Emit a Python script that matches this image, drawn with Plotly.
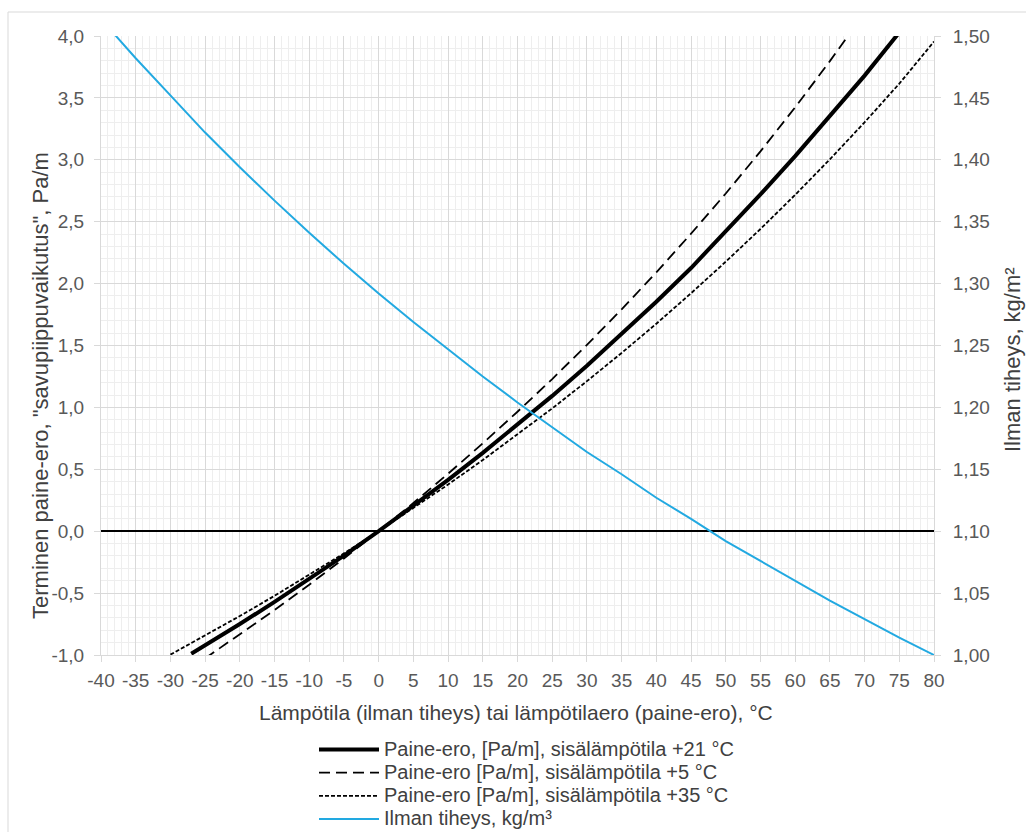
import plotly.graph_objects as go

# Pressure difference, inside temperature +21 °C
x_21 = [-27, -25, -20, -15, -10, -5, 0, 5, 10, 15, 20, 25, 30, 35, 40, 45, 50, 55, 60, 65, 70, 75]
p_21 = [-0.990, -0.922, -0.750, -0.571, -0.387, -0.197, 0.0, 0.204, 0.414, 0.633, 0.859, 1.093,
        1.337, 1.590, 1.853, 2.126, 2.420, 2.720, 3.030, 3.350, 3.680, 4.029]

# Pressure difference, inside temperature +5 °C
x_5 = [-25, -20, -15, -10, -5, 0, 5, 10, 15, 20, 25, 30, 35, 40, 45, 50, 55, 60, 65, 70]
p_5 = [-1.027, -0.835, -0.637, -0.432, -0.220, 0.0, 0.228, 0.464, 0.710, 0.965, 1.229, 1.505,
       1.792, 2.091, 2.403, 2.728, 3.068, 3.424, 3.797, 4.187]

# Pressure difference, inside temperature +35 °C
x_35 = [-30, -25, -20, -15, -10, -5, 0, 5, 10, 15, 20, 25, 30, 35, 40, 45, 50, 55, 60, 65, 70, 75, 80]
p_35 = [-0.997, -0.843, -0.685, -0.522, -0.353, -0.179, 0.0, 0.185, 0.377, 0.575, 0.780, 0.992,
        1.212, 1.440, 1.676, 1.922, 2.177, 2.441, 2.717, 3.004, 3.303, 3.615, 3.955]

# Air density
t_rho = [-38, -35, -30, -25, -20, -15, -10, -5, 0, 5, 10, 15, 20, 25, 30, 35, 40, 45, 50, 55, 60, 65, 70, 75, 80]
rho = [1.501, 1.482, 1.452, 1.422, 1.394, 1.367, 1.341, 1.316, 1.292, 1.269, 1.247, 1.225, 1.204,
       1.184, 1.164, 1.146, 1.127, 1.110, 1.092, 1.076, 1.060, 1.044, 1.029, 1.014, 1.000]

# Tick labels
x_tickvals = [-40, -35, -30, -25, -20, -15, -10, -5, 0, 5, 10, 15, 20, 25, 30, 35, 40, 45, 50, 55, 60, 65, 70, 75, 80]
x_ticktext = ["-40", "-35", "-30", "-25", "-20", "-15", "-10", "-5", "0", "5", "10", "15", "20",
              "25", "30", "35", "40", "45", "50", "55", "60", "65", "70", "75", "80"]
y_tickvals = [-1.0, -0.5, 0.0, 0.5, 1.0, 1.5, 2.0, 2.5, 3.0, 3.5, 4.0]
y_ticktext = ["-1,0", "-0,5", "0,0", "0,5", "1,0", "1,5", "2,0", "2,5", "3,0", "3,5", "4,0"]
y2_tickvals = [1.00, 1.05, 1.10, 1.15, 1.20, 1.25, 1.30, 1.35, 1.40, 1.45, 1.50]
y2_ticktext = ["1,00", "1,05", "1,10", "1,15", "1,20", "1,25", "1,30", "1,35", "1,40", "1,45", "1,50"]

names = [
    "Paine-ero, [Pa/m], sisälämpötila +21 °C",
    "Paine-ero [Pa/m], sisälämpötila +5 °C",
    "Paine-ero [Pa/m], sisälämpötila +35 °C",
    "Ilman tiheys, kg/m³",
]
x_title = "Lämpötila (ilman tiheys) tai lämpötilaero (paine-ero), °C"
y_title = 'Terminen paine-ero, "savupiippuvaikutus", Pa/m'
y2_title = "Ilman tiheys, kg/m²"

FONT = "Liberation Sans, Arial, sans-serif"
TICKC = "#595959"
TITLEC = "#404040"

def lname(n):
    return '<span style="font-size:20px">' + n + '</span>'

fig = go.Figure()
fig.add_trace(go.Scatter(x=x_21, y=p_21, mode="lines", name=lname(names[0]),
                         line=dict(color="black", width=4)))
fig.add_trace(go.Scatter(x=x_5, y=p_5, mode="lines", name=lname(names[1]),
                         line=dict(color="black", width=1.8, dash="11px,6px")))
fig.add_trace(go.Scatter(x=x_35, y=p_35, mode="lines", name=lname(names[2]),
                         line=dict(color="black", width=1.8, dash="4px,2px")))
fig.add_trace(go.Scatter(x=t_rho, y=rho, mode="lines", name=lname(names[3]), yaxis="y2",
                         line=dict(color="#22a9e1", width=2)))

# body margin is removed by the post script, so page pixels == figure pixels
W, H = 1026, 832
L, T = 101, 36
R = W - 934
B = H - 655
pw, ph = W - L - R, H - T - B

def px(xp):
    return (xp - L) / pw

def py(yp):
    return (H - B - yp) / ph

fig.update_layout(
    width=W, height=H,
    margin=dict(l=L, r=R, t=T, b=B, autoexpand=False),
    paper_bgcolor="white", plot_bgcolor="white",
    font=dict(family=FONT, size=19, color=TICKC),
    showlegend=True,
    legend=dict(x=px(314), y=py(733), xanchor="left", yanchor="top",
                font=dict(family=FONT, size=15.5, color=TITLEC),
                itemwidth=60, tracegroupgap=0, bgcolor="rgba(0,0,0,0)",
                traceorder="normal"),
    xaxis=dict(range=[-40, 80], tickmode="array", tickvals=x_tickvals, ticktext=x_ticktext,
               showgrid=True, gridcolor="#d9d9d9", gridwidth=1,
               minor=dict(dtick=1, tick0=0, showgrid=True, gridcolor="#eeeeee", gridwidth=1),
               ticks="outside", ticklen=6, tickcolor="#d9d9d9", ticklabelstandoff=2,
               showline=True, linecolor="#d9d9d9", zeroline=False,
               tickfont=dict(size=19, color=TICKC)),
    yaxis=dict(range=[-1, 4], tickmode="array", tickvals=y_tickvals, ticktext=y_ticktext,
               showgrid=True, gridcolor="#d9d9d9", gridwidth=1,
               minor=dict(dtick=0.1, tick0=0, showgrid=True, gridcolor="#eeeeee", gridwidth=1),
               ticks="outside", ticklen=6, tickcolor="#d9d9d9", ticklabelstandoff=6,
               showline=True, linecolor="#d9d9d9",
               zeroline=True, zerolinecolor="black", zerolinewidth=1.5,
               tickfont=dict(size=19, color=TICKC)),
    yaxis2=dict(range=[1.0, 1.5], tickmode="array", tickvals=y2_tickvals, ticktext=y2_ticktext,
                overlaying="y", side="right", showgrid=False, zeroline=False,
                ticks="outside", ticklen=6, tickcolor="#d9d9d9", ticklabelstandoff=8,
                showline=True, linecolor="#d9d9d9",
                tickfont=dict(size=19, color=TICKC)),
    annotations=[
        dict(text=x_title, xref="paper", yref="paper", x=px(516), y=py(712),
             xanchor="center", yanchor="middle", showarrow=False,
             font=dict(size=21, color=TITLEC)),
        dict(text=y_title, xref="paper", yref="paper", x=px(41), y=py(386),
             xanchor="center", yanchor="middle", showarrow=False, textangle=-90,
             font=dict(size=22, color=TITLEC)),
        dict(text=y2_title, xref="paper", yref="paper", x=px(1012), y=py(359),
             xanchor="center", yanchor="middle", showarrow=False, textangle=-90,
             font=dict(size=22, color=TITLEC)),
    ],
    shapes=[dict(type="rect", xref="paper", yref="paper",
                 x0=px(8), x1=px(1060), y0=py(880), y1=py(12),
                 line=dict(color="#d9d9d9", width=1), fillcolor="rgba(0,0,0,0)",
                 layer="below")],
)

fig.write_html("out.html", config={"displayModeBar": False},
               post_script="document.body.style.margin='0';document.body.style.overflow='hidden';")
